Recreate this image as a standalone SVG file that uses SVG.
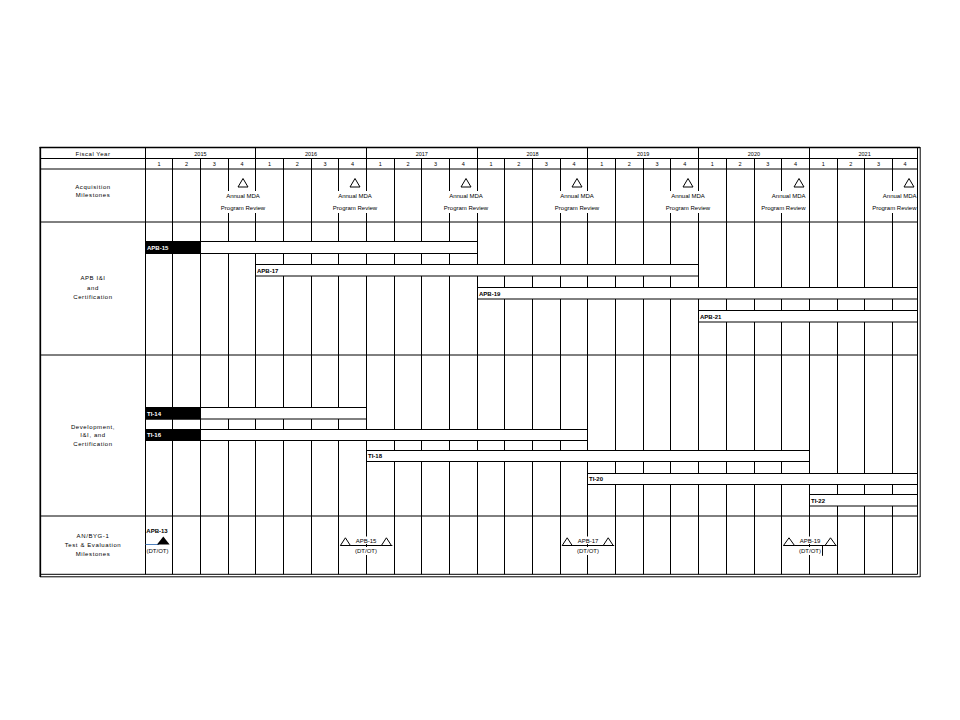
<svg xmlns="http://www.w3.org/2000/svg" width="960" height="720" viewBox="0 0 960 720">
<style>
text{font-family:"Liberation Sans",Arial,sans-serif;font-size:6px;fill:#000}
.c{text-anchor:middle}
.e{text-anchor:end}
.lab{letter-spacing:0.6px}
.b{font-weight:bold}
.w{fill:#fff}
.yr{font-size:5.5px}
.g{stroke:#000;stroke-width:1;fill:none}
.bar{fill:#fff;stroke:#000;stroke-width:1}
.blk{fill:#000;stroke:#000;stroke-width:1}
.tri{fill:#fff;stroke:#000;stroke-width:1}
.bg{fill:#fff}
</style>
<rect width="960" height="720" fill="#fff"/>

<g id="grid" class="g">
<!-- horizontal section lines -->
<path d="M40,158.5H917.5M40,169H917.5M40,222H917.5M40,355H917.5M40,516H917.5"/>
<!-- label column and year boundaries (full height) -->
<path d="M145.5,148V574.3M255.5,148V574.3M366.5,148V574.3M477.5,148V574.3M587.5,148V574.3M698.5,148V574.3M809.5,148V574.3"/>
<!-- quarter lines from row 2 down -->
<path d="M172.5,158.5V574.3M200.5,158.5V574.3M228.5,158.5V574.3M283.5,158.5V574.3M311.5,158.5V574.3M338.5,158.5V574.3M394.5,158.5V574.3M421.5,158.5V574.3M449.5,158.5V574.3M504.5,158.5V574.3M532.5,158.5V574.3M560.5,158.5V574.3M615.5,158.5V574.3M643.5,158.5V574.3M670.5,158.5V574.3M726.5,158.5V574.3M754.5,158.5V574.3M781.5,158.5V574.3M837.5,158.5V574.3M864.5,158.5V574.3M892.5,158.5V574.3"/>
</g>

<g id="frame" fill="none" stroke="#000">
<path d="M39.5,147.5H920" stroke-width="1.7"/>
<path d="M40.3,147V577" stroke-width="1.7"/>
<path d="M917.5,148V574.3M40,574.3H917.5" stroke-width="1"/>
<path d="M920.2,147V577M40,576.8H920.2" stroke-width="1"/>
</g>

<g id="header">
<text x="93" y="155.6" class="c lab" style="letter-spacing:0.5px">Fiscal Year</text>
<text x="200.4" y="155.6" class="c yr">2015</text>
<text x="311" y="155.6" class="c yr">2016</text>
<text x="421.8" y="155.6" class="c yr">2017</text>
<text x="532.5" y="155.6" class="c yr">2018</text>
<text x="643.2" y="155.6" class="c yr">2019</text>
<text x="753.9" y="155.6" class="c yr">2020</text>
<text x="864.6" y="155.6" class="c yr">2021</text>
<g class="yr">
<text x="159" y="166" class="c yr">1</text><text x="186.5" y="166" class="c yr">2</text><text x="214.2" y="166" class="c yr">3</text><text x="242" y="166" class="c yr">4</text>
<text x="269.6" y="166" class="c yr">1</text><text x="297.3" y="166" class="c yr">2</text><text x="325" y="166" class="c yr">3</text><text x="352.6" y="166" class="c yr">4</text>
<text x="380.3" y="166" class="c yr">1</text><text x="408" y="166" class="c yr">2</text><text x="435.6" y="166" class="c yr">3</text><text x="463.3" y="166" class="c yr">4</text>
<text x="491" y="166" class="c yr">1</text><text x="518.7" y="166" class="c yr">2</text><text x="546.4" y="166" class="c yr">3</text><text x="574" y="166" class="c yr">4</text>
<text x="601.7" y="166" class="c yr">1</text><text x="629.4" y="166" class="c yr">2</text><text x="657" y="166" class="c yr">3</text><text x="684.7" y="166" class="c yr">4</text>
<text x="712.4" y="166" class="c yr">1</text><text x="740.1" y="166" class="c yr">2</text><text x="767.8" y="166" class="c yr">3</text><text x="795.5" y="166" class="c yr">4</text>
<text x="823.2" y="166" class="c yr">1</text><text x="850.8" y="166" class="c yr">2</text><text x="878.5" y="166" class="c yr">3</text><text x="905" y="166" class="c yr">4</text>
</g>
</g>

<g id="row-labels">
<text x="93" y="188.5" class="c lab">Acquisition</text>
<text x="93" y="197.2" class="c lab">Milestones</text>
<text x="93" y="280.4" class="c lab">APB I&amp;I</text>
<text x="93" y="289.8" class="c lab">and</text>
<text x="93" y="298.9" class="c lab">Certification</text>
<text x="93" y="428.8" class="c lab">Development,</text>
<text x="93" y="437.4" class="c lab">I&amp;I, and</text>
<text x="93" y="446.2" class="c lab">Certification</text>
<text x="93" y="537.9" class="c lab">AN/BYG-1</text>
<text x="93" y="546.5" class="c lab">Test &amp; Evaluation</text>
<text x="93" y="555.9" class="c lab">Milestones</text>
</g>

<g id="acq-milestones">
<g id="mda-2015">
<rect class="bg" x="221" y="191" width="45" height="22"/>
<polygon class="tri" points="238,187 243,178.5 248,187"/>
<text x="243" y="198.2" class="c">Annual MDA</text>
<text x="243" y="210.2" class="c">Program Review</text>
</g>
<g id="mda-2016">
<rect class="bg" x="332.5" y="191" width="45" height="22"/>
<polygon class="tri" points="350,187 355,178.5 360,187"/>
<text x="355" y="198.2" class="c">Annual MDA</text>
<text x="355" y="210.2" class="c">Program Review</text>
</g>
<g id="mda-2017">
<rect class="bg" x="443.5" y="191" width="45" height="22"/>
<polygon class="tri" points="461,187 466,178.5 471,187"/>
<text x="466" y="198.2" class="c">Annual MDA</text>
<text x="466" y="210.2" class="c">Program Review</text>
</g>
<g id="mda-2018">
<rect class="bg" x="554.5" y="191" width="45" height="22"/>
<polygon class="tri" points="572,187 577,178.5 582,187"/>
<text x="577" y="198.2" class="c">Annual MDA</text>
<text x="577" y="210.2" class="c">Program Review</text>
</g>
<g id="mda-2019">
<rect class="bg" x="665.5" y="191" width="45" height="22"/>
<polygon class="tri" points="683,187 688,178.5 693,187"/>
<text x="688" y="198.2" class="c">Annual MDA</text>
<text x="688" y="210.2" class="c">Program Review</text>
</g>
<g id="mda-2020">
<rect class="bg" x="760" y="191" width="46" height="22"/>
<polygon class="tri" points="794,187 799,178.5 804,187"/>
<text x="805.5" y="198.2" class="e">Annual MDA</text>
<text x="805.5" y="210.2" class="e">Program Review</text>
</g>
<g id="mda-2021">
<rect class="bg" x="871.5" y="191" width="45.5" height="22"/>
<polygon class="tri" points="904,187 909,178.5 914,187"/>
<text x="916.5" y="198.2" class="e">Annual MDA</text>
<text x="916.5" y="210.2" class="e">Program Review</text>
</g>
</g>

<g id="apb-bars">
<g id="apb15">
<rect class="bar" x="145.5" y="241.5" width="332" height="12"/>
<rect class="blk" x="145.5" y="241.5" width="55" height="12"/>
<text x="147" y="249.7" class="b w">APB-15</text>
</g>
<g id="apb17">
<rect class="bar" x="255.5" y="264.5" width="443" height="11.5"/>
<text x="257" y="272.5" class="b">APB-17</text>
</g>
<g id="apb19">
<rect class="bar" x="477.5" y="287.5" width="440" height="11.5"/>
<text x="479" y="295.5" class="b">APB-19</text>
</g>
<g id="apb21">
<rect class="bar" x="698.5" y="310.5" width="219" height="11.5"/>
<text x="700" y="318.5" class="b">APB-21</text>
</g>
</g>

<g id="ti-bars">
<g id="ti14">
<rect class="bar" x="145.5" y="407.5" width="221" height="11.5"/>
<rect class="blk" x="145.5" y="407.5" width="55" height="11.5"/>
<text x="147" y="415.5" class="b w">TI-14</text>
</g>
<g id="ti16">
<rect class="bar" x="145.5" y="429.5" width="442" height="11"/>
<rect class="blk" x="145.5" y="429.5" width="55" height="11"/>
<text x="147" y="437.2" class="b w">TI-16</text>
</g>
<g id="ti18">
<rect class="bar" x="366.5" y="450.5" width="443" height="11"/>
<text x="368" y="458.2" class="b">TI-18</text>
</g>
<g id="ti20">
<rect class="bar" x="587.5" y="473.5" width="330" height="11"/>
<text x="589" y="481.2" class="b">TI-20</text>
</g>
<g id="ti22">
<rect class="bar" x="809.5" y="494.5" width="108" height="11.5"/>
<text x="811" y="502.5" class="b">TI-22</text>
</g>
</g>

<g id="te-milestones">
<g id="te-apb13">
<rect class="bg" x="146" y="526.5" width="23" height="7.5"/>
<rect class="bg" x="146" y="547" width="23" height="8"/>
<line x1="145.5" y1="544.5" x2="159" y2="544.5" stroke="#4f81bd" stroke-width="1"/>
<polygon points="157,544.5 163.3,536.5 169.6,544.5" fill="#000"/>
<text x="157" y="532.8" class="c b">APB-13</text>
<text x="157.5" y="553.2" class="c">(DT/OT)</text>
</g>
<g id="te-apb15">
<rect class="bg" x="355" y="536.5" width="22" height="7.5"/>
<rect class="bg" x="354.5" y="547" width="23.5" height="8"/>
<line x1="340.4" y1="545.5" x2="392.4" y2="545.5" stroke="#000"/>
<polygon class="tri" points="340.4,545.5 345.4,537.8 350.4,545.5"/>
<polygon class="tri" points="381.4,545.5 386.4,537.8 391.4,545.5"/>
<text x="366" y="542.8" class="c">APB-15</text>
<text x="366" y="553.2" class="c">(DT/OT)</text>
</g>
<g id="te-apb17">
<rect class="bg" x="577" y="536.5" width="22" height="7.5"/>
<rect class="bg" x="576.5" y="547" width="23.5" height="8"/>
<line x1="562.2" y1="545.5" x2="614.2" y2="545.5" stroke="#000"/>
<polygon class="tri" points="562.2,545.5 567.2,537.8 572.2,545.5"/>
<polygon class="tri" points="603.2,545.5 608.2,537.8 613.2,545.5"/>
<text x="588" y="542.8" class="c">APB-17</text>
<text x="588" y="553.2" class="c">(DT/OT)</text>
</g>
<g id="te-apb19">
<rect class="bg" x="799" y="536.5" width="22" height="7.5"/>
<rect class="bg" x="798.5" y="547" width="23.5" height="8"/>
<line x1="783.5" y1="545.5" x2="836.5" y2="545.5" stroke="#000"/>
<polygon class="tri" points="783.5,545.5 789,537.8 794.5,545.5"/>
<polygon class="tri" points="825,545.5 830.5,537.8 836,545.5"/>
<text x="810" y="542.8" class="c">APB-19</text>
<text x="810" y="553.2" class="c">(DT/OT)</text>
<line x1="822.5" y1="545.5" x2="822.5" y2="555.8" stroke="#000"/>
</g>
</g>
</svg>
